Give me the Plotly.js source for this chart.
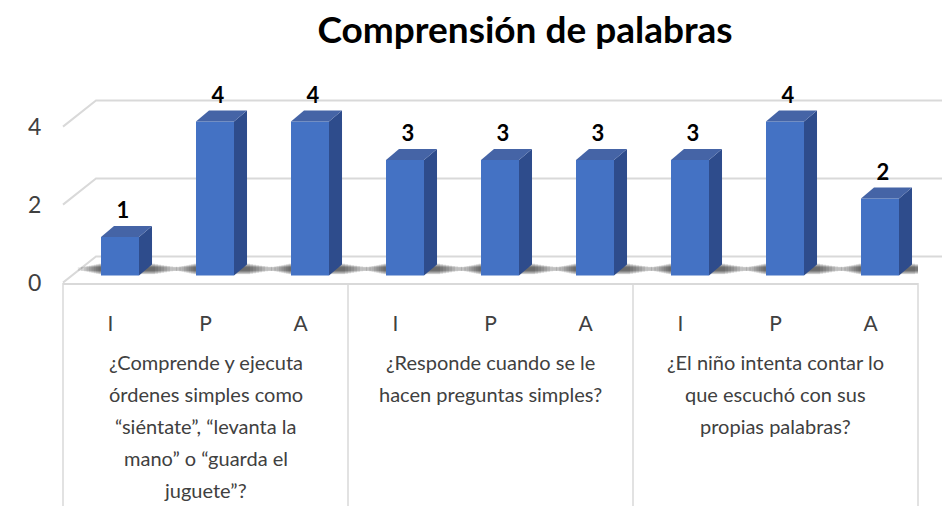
<!DOCTYPE html>
<html>
<head>
<meta charset="utf-8">
<script src="https://cdn.plot.ly/plotly-3.0.1.min.js"></script>
<style>html,body{margin:0;padding:0;background:#fff;}#chart{width:942px;height:506px;}</style>
</head>
<body>
<div id="chart"></div>
<script>
// ---- data ----
var subLabels = ['I','P','A','I','P','A','I','P','A'];
var values = [1,4,4,3,3,3,3,4,2];
var yTicks = [0,2,4];
var questionLines = [
  ['¿Comprende y ejecuta','órdenes simples como','“siéntate”, “levanta la','mano” o “guarda el','juguete”?'],
  ['¿Responde cuando se le','hacen preguntas simples?'],
  ['¿El niño intenta contar lo','que escuchó con sus','propias palabras?']
];
var titleText = 'Comprensión de palabras';

// ---- geometry / style ----
var FONT = 'Lato, Carlito, Calibri, sans-serif';
var barShift = 0.1, barW = 0.4, dx = 0.137, dy = 0.286;
var frontColor = '#4472C4', sideColor = '#2E4C8C', topColor = '#4564A6';
var gridColor = '#D9D9D9';
var plotTop = 80, plotBottom = 283;
var plotH = plotBottom - plotTop;
var backOffset = 0.67; // back wall offset in label-axis units
var pxX = 1/95; // x units per pixel

var xs = values.map(function(v,i){return i + barShift;});
var traces = [];
traces.push({
  type:'bar', x: xs, y: values, width: barW, xaxis:'x', yaxis:'y2',
  marker:{color: frontColor, line:{width:0}}, hoverinfo:'skip', showlegend:false
});
values.forEach(function(v,i){
  var l = xs[i]-barW/2, r = xs[i]+barW/2;
  traces.push({type:'scatter', mode:'lines', xaxis:'x', yaxis:'y2', fill:'toself',
    x:[r, r, r+dx, r+dx, r], y:[0, v, v+dy, dy, 0],
    fillcolor: sideColor, line:{width:0, color: sideColor}, hoverinfo:'skip', showlegend:false});
  traces.push({type:'scatter', mode:'lines', xaxis:'x', yaxis:'y2', fill:'toself',
    x:[l, r, r+dx, l+dx, l], y:[v, v, v+dy, v+dy, v],
    fillcolor: topColor, line:{width:0, color: topColor}, hoverinfo:'skip', showlegend:false});
});
traces.push({
  type:'scatter', mode:'text', xaxis:'x', yaxis:'y2',
  x: xs.map(function(x){return x+0.03;}), y: values.map(function(v){return v+dy+0.06;}),
  text: values.map(String), textposition:'top center',
  textfont:{family:FONT, size:22, color:'#000000', weight:'bold'},
  hoverinfo:'skip', showlegend:false
});

var shapes = [];
// soft shadows on the floor (layered for a fading look)
var shadowSteps = [3,6,9,12,15,18,21,25,29];
values.forEach(function(v,i){
  var l = xs[i]-barW/2, r = xs[i]+barW/2+dx;
  shadowSteps.forEach(function(s,k){
    var shrink = 0.012*k;
    shapes.push({type:'rect', layer:'below', xref:'x', yref:'y2',
      x0: l - s*0.8*pxX, x1: r + s*pxX, y0: 0.03+shrink, y1: 0.31-shrink,
      fillcolor:'rgba(0,0,0,0.09)', line:{width:0}});
  });
});
// back wall gridlines + side diagonals
var backX = 33/855, farX = (942-63)/855;
yTicks.forEach(function(t){
  shapes.push({type:'path', layer:'below', xref:'paper', yref:'y',
    path:'M 0,'+t+' L '+backX+','+(t+backOffset)+' L '+farX+','+(t+backOffset),
    line:{color:gridColor, width:2}});
});
// category box dividers
[0,1/3,2/3,1].forEach(function(px){
  shapes.push({type:'line', xref:'paper', yref:'paper', x0:px, x1:px, y0:0, y1:-1.2,
    line:{color:gridColor, width:1.5}});
});

var annotations = [];
questionLines.forEach(function(lines,g){
  lines.forEach(function(txt,k){
    var py = 362 + 32*k;
    annotations.push({xref:'x', yref:'paper', x: g*3+1, y:(plotBottom-py)/plotH,
      yanchor:'middle', xanchor:'center', showarrow:false, text:txt,
      font:{family:FONT, size:20, color:'#404040'}});
  });
});

var layout = {
  width:942, height:506,
  margin:{l:63, r:24, t:plotTop, b:506-plotBottom},
  paper_bgcolor:'#ffffff', plot_bgcolor:'rgba(0,0,0,0)',
  title:{text:titleText, x:525/942, xref:'container', xanchor:'center',
    y:1-30/506, yref:'container', yanchor:'middle',
    font:{family:FONT, size:37, color:'#000000', weight:'bold'}},
  xaxis:{range:[-0.5,8.5], tickvals:[0,1,2,3,4,5,6,7,8], ticktext:subLabels,
    showgrid:false, zeroline:false, showline:true, linecolor:gridColor, linewidth:2,
    ticks:'outside', ticklen:21, tickcolor:'rgba(0,0,0,0)',
    tickfont:{family:FONT, size:21, color:'#404040'}, fixedrange:true},
  yaxis:{range:[-0.01, -0.01 + plotH/39], tickvals:yTicks, showgrid:false, zeroline:false,
    showline:false, ticks:'outside', ticklen:16, tickcolor:'rgba(0,0,0,0)',
    tickfont:{family:FONT, size:23, color:'#404040'}, fixedrange:true},
  yaxis2:{overlaying:'y', range:[-7.5/38.5, -7.5/38.5 + plotH/38.5], visible:false, fixedrange:true},
  shapes:shapes, annotations:annotations, showlegend:false
};
Plotly.newPlot('chart', traces, layout, {displayModeBar:false, staticPlot:true});
</script>
</body>
</html>
